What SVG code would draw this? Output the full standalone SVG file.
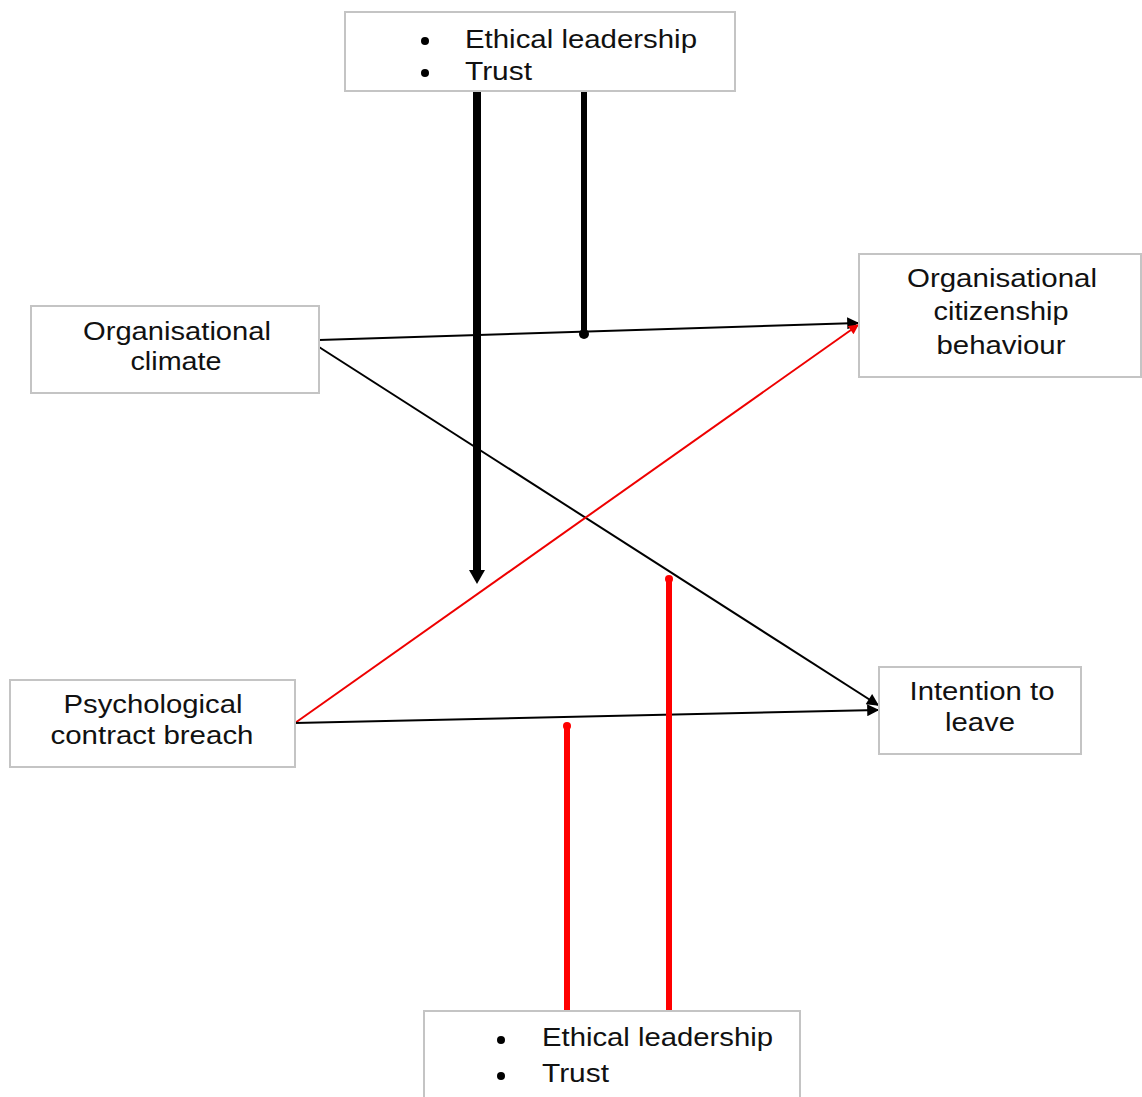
<svg xmlns="http://www.w3.org/2000/svg" width="1142" height="1097" viewBox="0 0 1142 1097">
<defs>
<style>
.box{fill:#fff;stroke:#c4c4c4;stroke-width:2}
.t{font-family:"Liberation Sans",Arial,sans-serif;font-size:25px;fill:#111}
.c{text-anchor:middle}
.thin{fill:none;stroke-width:2}
</style>
<marker id="ab" viewBox="0 0 10 10" refX="9" refY="5" markerWidth="16" markerHeight="12" markerUnits="userSpaceOnUse" orient="auto"><path d="M0,0L10,5L0,10z" fill="#000"/></marker>
<marker id="ar" viewBox="0 0 10 10" refX="9" refY="5" markerWidth="14" markerHeight="10" markerUnits="userSpaceOnUse" orient="auto"><path d="M0,0L10,5L0,10z" fill="#e00"/></marker>
</defs>
<g id="connectors">
<line class="thin" x1="319" y1="340" x2="858" y2="323" stroke="#000" marker-end="url(#ab)"/>
<line class="thin" x1="319" y1="347" x2="878" y2="705" stroke="#000" marker-end="url(#ab)"/>
<line class="thin" x1="295" y1="723" x2="858" y2="325" stroke="#e00" marker-end="url(#ar)"/>
<line class="thin" x1="295" y1="723" x2="878" y2="710" stroke="#000" marker-end="url(#ab)"/>
<line x1="477" y1="91" x2="477" y2="572" stroke="#000" stroke-width="8"/>
<path d="M469,570L485,570L477,584z" fill="#000"/>
<line x1="584" y1="91" x2="584" y2="334" stroke="#000" stroke-width="6"/>
<circle cx="584" cy="334" r="5" fill="#000"/>
<line x1="567" y1="1011" x2="567" y2="726" stroke="#f00" stroke-width="6"/>
<circle cx="567" cy="726" r="4" fill="#f00"/>
<line x1="669" y1="1011" x2="669" y2="579" stroke="#f00" stroke-width="6"/>
<circle cx="669" cy="579" r="4" fill="#f00"/>
</g>
<g id="top">
<rect class="box" x="345" y="12" width="390" height="79"/>
<circle cx="425" cy="41" r="4" fill="#000"/>
<circle cx="425" cy="73" r="4" fill="#000"/>
<text class="t" x="465" y="48" textLength="232" lengthAdjust="spacingAndGlyphs">Ethical leadership</text>
<text class="t" x="465" y="80" textLength="67" lengthAdjust="spacingAndGlyphs">Trust</text>
</g>
<g id="climate">
<rect class="box" x="31" y="306" width="288" height="87"/>
<text class="t c" x="177" y="340" textLength="188" lengthAdjust="spacingAndGlyphs">Organisational</text>
<text class="t c" x="176" y="370" textLength="91" lengthAdjust="spacingAndGlyphs">climate</text>
</g>
<g id="ocb">
<rect class="box" x="859" y="254" width="282" height="123"/>
<text class="t c" x="1002" y="287" textLength="190" lengthAdjust="spacingAndGlyphs">Organisational</text>
<text class="t c" x="1001" y="320" textLength="135" lengthAdjust="spacingAndGlyphs">citizenship</text>
<text class="t c" x="1001" y="354" textLength="129" lengthAdjust="spacingAndGlyphs">behaviour</text>
</g>
<g id="pcb">
<rect class="box" x="10" y="680" width="285" height="87"/>
<text class="t c" x="153" y="713" textLength="179" lengthAdjust="spacingAndGlyphs">Psychological</text>
<text class="t c" x="152" y="744" textLength="203" lengthAdjust="spacingAndGlyphs">contract breach</text>
</g>
<g id="itl">
<rect class="box" x="879" y="667" width="202" height="87"/>
<text class="t c" x="982" y="700" textLength="145" lengthAdjust="spacingAndGlyphs">Intention to</text>
<text class="t c" x="980" y="731" textLength="70" lengthAdjust="spacingAndGlyphs">leave</text>
</g>
<g id="bottom">
<rect class="box" x="424" y="1011" width="376" height="90"/>
<circle cx="501" cy="1040" r="4" fill="#000"/>
<circle cx="501" cy="1076" r="4" fill="#000"/>
<text class="t" x="542" y="1046" textLength="231" lengthAdjust="spacingAndGlyphs">Ethical leadership</text>
<text class="t" x="542" y="1082" textLength="67" lengthAdjust="spacingAndGlyphs">Trust</text>
</g>
</svg>
